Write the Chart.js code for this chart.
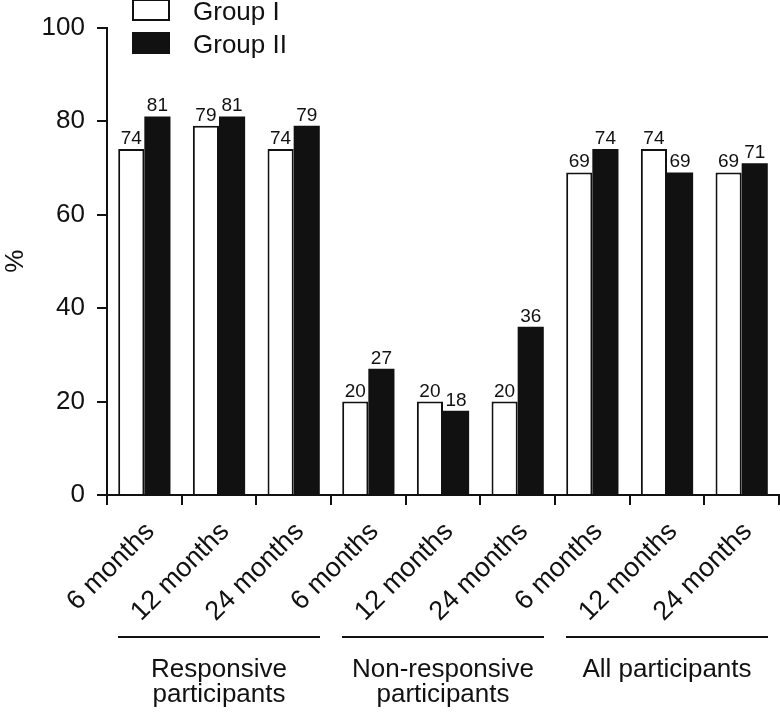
<!DOCTYPE html>
<html lang="en">
<head>
    <meta charset="UTF-8">
    <title>Group I vs Group II</title>
    <script src="https://cdnjs.cloudflare.com/ajax/libs/Chart.js/4.4.0/chart.umd.min.js"></script>
    <style>
        html, body { margin: 0; padding: 0; background: #fff; }
        .chart-container { position: relative; width: 780px; height: 713px; }
    </style>
</head>
<body>
    <div class="chart-container">
        <canvas id="barChart"></canvas>
    </div>

    <script>
        // chart data
        const timepoints = ['6 months', '12 months', '24 months',
                            '6 months', '12 months', '24 months',
                            '6 months', '12 months', '24 months'];
        const groupOne = [74, 79, 74, 20, 20, 20, 69, 74, 69];
        const groupTwo = [81, 81, 79, 27, 18, 36, 74, 69, 71];
        const seriesNames = ['Group I', 'Group II'];
        const subgroups = [
            ['Responsive', 'participants'],
            ['Non-responsive', 'participants'],
            ['All participants']
        ];
        const yTicks = [0, 20, 40, 60, 80, 100];

        const FONT = "'Liberation Sans', Arial, Helvetica, sans-serif";

        // value labels above bars
        const valueLabels = {
            id: 'valueLabels',
            afterDatasetsDraw(chart) {
                const ctx = chart.ctx;
                ctx.save();
                ctx.font = '19px ' + FONT;
                ctx.fillStyle = '#111';
                ctx.textAlign = 'center';
                ctx.textBaseline = 'alphabetic';
                chart.data.datasets.forEach((ds, i) => {
                    chart.getDatasetMeta(i).data.forEach((bar, j) => {
                        ctx.fillText(ds.data[j], bar.x, bar.y - 5);
                    });
                });
                ctx.restore();
            }
        };

        // legend in the top-left corner
        const cornerLegend = {
            id: 'cornerLegend',
            afterDraw(chart) {
                const ctx = chart.ctx;
                ctx.save();
                chart.data.datasets.forEach((ds, i) => {
                    const top = -1 + i * 33;
                    ctx.fillStyle = ds.backgroundColor;
                    ctx.fillRect(132, top, 38, 22);
                    ctx.lineWidth = 2;
                    ctx.strokeStyle = '#111';
                    ctx.strokeRect(133, top + 1, 36, 20);
                    ctx.fillStyle = '#111';
                    ctx.font = '26px ' + FONT;
                    ctx.textBaseline = 'alphabetic';
                    ctx.textAlign = 'left';
                    ctx.fillText(ds.label, 193, 20 + i * 33);
                });
                ctx.restore();
            }
        };

        // brackets and names under the x labels
        const groupBrackets = {
            id: 'groupBrackets',
            afterDraw(chart) {
                const ctx = chart.ctx;
                const x = chart.scales.x;
                const step = (x.right - x.left) / timepoints.length;
                ctx.save();
                ctx.strokeStyle = '#111';
                ctx.fillStyle = '#111';
                ctx.lineWidth = 2;
                ctx.font = '26px ' + FONT;
                ctx.textAlign = 'center';
                ctx.textBaseline = 'alphabetic';
                subgroups.forEach((lines, g) => {
                    const x0 = x.left + g * 3 * step + 11;
                    const x1 = x.left + (g + 1) * 3 * step - 11;
                    ctx.beginPath();
                    ctx.moveTo(x0, 637);
                    ctx.lineTo(x1, 637);
                    ctx.stroke();
                    lines.forEach((t, k) => {
                        ctx.fillText(t, (x0 + x1) / 2, 677 + k * 25);
                    });
                });
                ctx.restore();
            }
        };

        const ctx = document.getElementById('barChart').getContext('2d');
        new Chart(ctx, {
            type: 'bar',
            data: {
                labels: timepoints,
                datasets: [{
                    label: seriesNames[0],
                    data: groupOne,
                    backgroundColor: '#ffffff',
                    borderColor: '#111',
                    borderWidth: 2
                }, {
                    label: seriesNames[1],
                    data: groupTwo,
                    backgroundColor: '#111111',
                    borderColor: '#111',
                    borderWidth: 0
                }]
            },
            options: {
                responsive: true,
                maintainAspectRatio: false,
                animation: false,
                categoryPercentage: 0.7,
                barPercentage: 1.0,
                layout: { padding: { top: 25, right: 1, left: 0, bottom: 0 } },
                plugins: {
                    legend: { display: false },
                    tooltip: { enabled: false }
                },
                scales: {
                    x: {
                        afterFit(scale) { scale.height = 218; },
                        grid: {
                            drawOnChartArea: false,
                            drawTicks: true,
                            tickLength: 10,
                            color: '#111',
                            lineWidth: 2
                        },
                        border: { display: true, color: '#111', width: 2 },
                        ticks: {
                            minRotation: 45,
                            maxRotation: 45,
                            autoSkip: false,
                            padding: 11,
                            labelOffset: 6,
                            color: '#111',
                            font: { family: FONT, size: 27 }
                        }
                    },
                    y: {
                        min: 0,
                        max: 100,
                        afterFit(scale) { scale.width = 107; },
                        afterBuildTicks(scale) {
                            scale.ticks = yTicks.map(v => ({ value: v }));
                        },
                        grid: {
                            drawOnChartArea: false,
                            drawTicks: true,
                            tickLength: 10,
                            color: '#111',
                            lineWidth: 2
                        },
                        border: { display: true, color: '#111', width: 2 },
                        ticks: {
                            padding: 12,
                            color: '#111',
                            font: { family: FONT, size: 26 }
                        },
                        title: {
                            display: true,
                            text: '%',
                            color: '#111',
                            padding: 0,
                            font: { family: FONT, size: 26 }
                        }
                    }
                }
            },
            plugins: [valueLabels, cornerLegend, groupBrackets]
        });
    </script>
</body>
</html>
